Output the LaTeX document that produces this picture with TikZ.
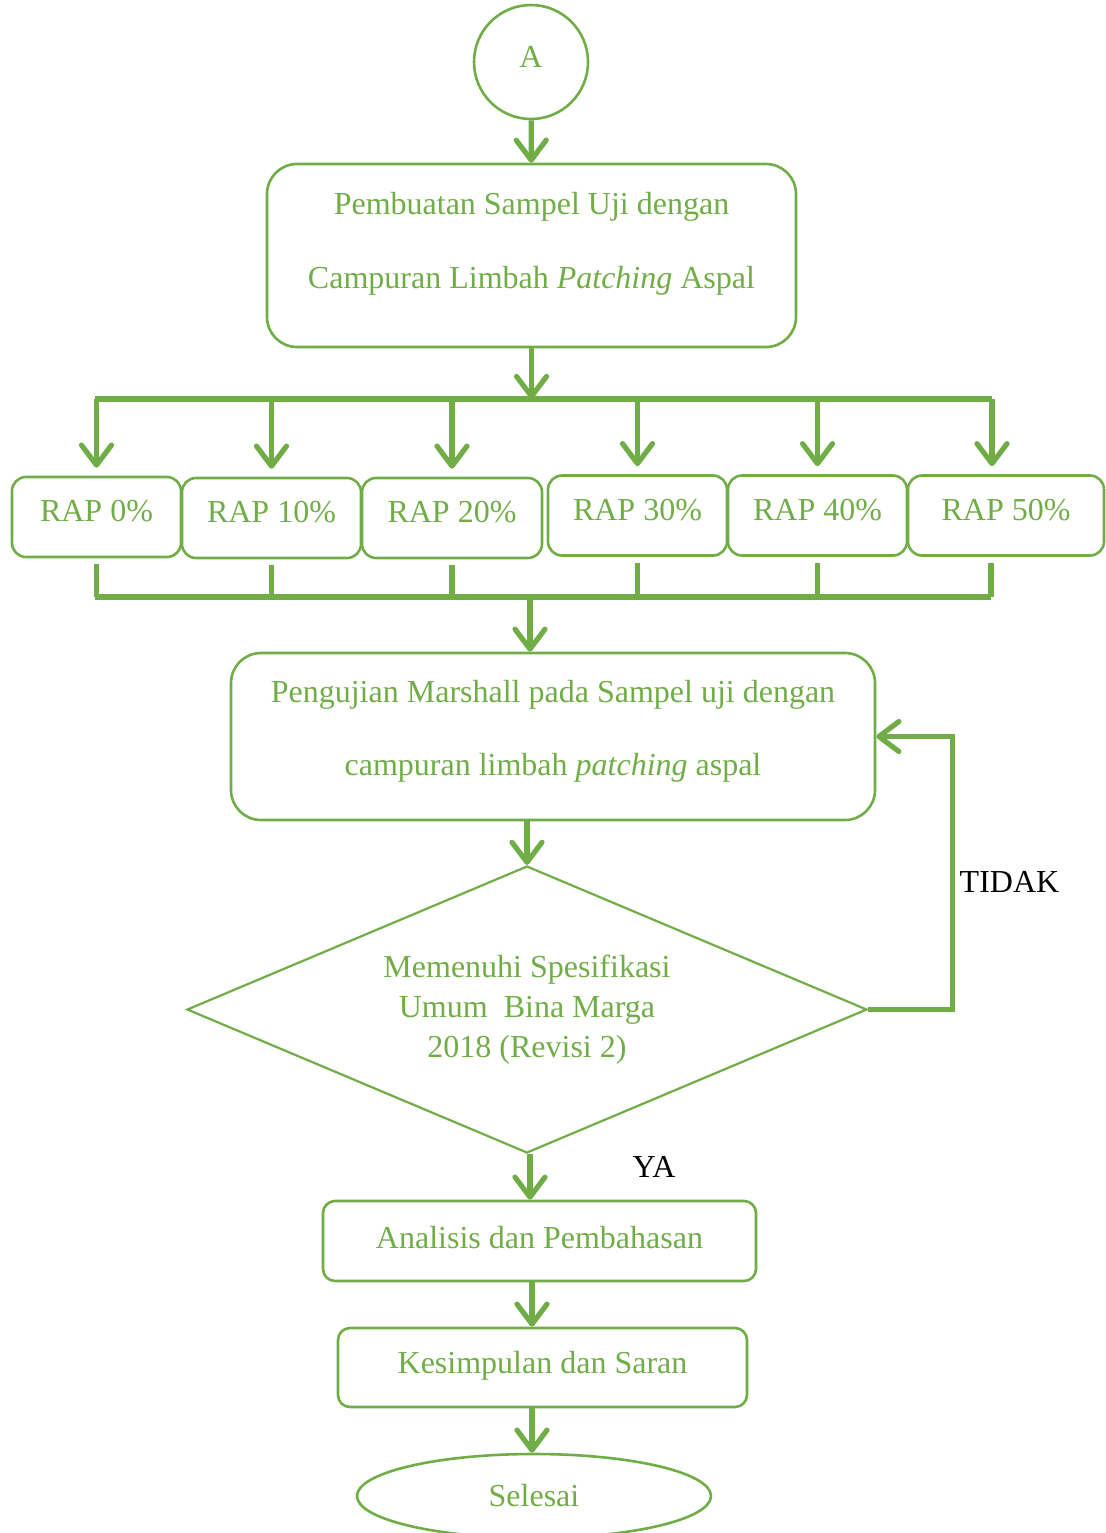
\documentclass[tikz,border=0pt]{standalone}
\usepackage{fontspec}
\setmainfont{Liberation Serif}
\usetikzlibrary{shapes.geometric,arrows.meta}
\definecolor{hijau}{RGB}{112,173,71}

\begin{document}
\begin{tikzpicture}[x=0.5pt,y=-0.5pt,
    font=\fontsize{16}{20}\selectfont,
    kotak/.style={draw=hijau,line width=1.3pt,rounded corners=7pt,text=hijau,align=center,inner sep=0pt},
    panah/.style={draw=hijau,line width=2.6pt,-{Straight Barb[length=10pt,width=15pt,round]}},
    garis/.style={draw=hijau,line width=2.6pt}]
\useasboundingbox (0,0) rectangle (1105,1533);

% awal
\node[kotak,circle,minimum size=57pt,text depth=5pt] (mulai) at (531,62) {A};
\node[kotak,rounded corners=15pt,minimum width=264.5pt,minimum height=91.5pt,text depth=15pt] (buat) at (531.5,255.5)
    {Pembuatan Sampel Uji dengan\\[17pt]Campuran Limbah \textit{Patching} Aspal};
\draw[panah] (mulai) -- (buat);

% variasi RAP
\foreach \n/\cx/\cy/\w/\t in {r0/96.5/517/84.5/0, r1/271.5/518/89.5/10, r2/452/518/90/20,
    r3/637.5/515.5/89.5/30, r4/817.5/515.5/89.5/40, r5/1006/515.5/98/50}
  \node[kotak,minimum width=\w pt,minimum height=40pt,text depth=6pt] (\n) at (\cx,\cy) {RAP \t\%};

\coordinate (atasK) at (95,399);
\coordinate (atasR) at (992,399);
\draw[garis] (atasK) -- (atasR);
\draw[panah] (buat) -- (buat.south |- atasK);
\foreach \n in {r0,r1,r2,r3,r4}
  \draw[panah,shorten >=4pt] (\n.north |- atasK) -- (\n.north);
\draw[panah,shorten >=4pt] (atasR) -- (atasR |- r5.north);

\coordinate (bawahK) at (95,597);
\coordinate (bawahR) at (991,597);
\coordinate (bawahM) at (530,597);
\draw[garis] (bawahK) -- (bawahR);
\foreach \n in {r0,r1,r2,r3,r4}
  \draw[garis,shorten <=3pt] (\n.south) -- (\n.south |- bawahK);
\draw[garis,shorten >=3pt] (bawahR) -- (bawahR |- r5.south);

% pengujian
\node[kotak,rounded corners=15pt,minimum width=322pt,minimum height=83.5pt,text depth=8.5pt] (uji) at (553,736.5)
    {Pengujian Marshall pada Sampel uji dengan\\[16.5pt]campuran limbah \textit{patching} aspal};
\draw[panah] (bawahM) -- (bawahM |- uji.north);

\node[kotak,diamond,sharp corners,aspect=2.37,line width=1.1pt,minimum width=340pt,minimum height=143.5pt] (cek) at (527,1009.5)
    {Memenuhi Spesifikasi\\Umum\ \ Bina Marga\\2018 (Revisi 2)};
\draw[panah] (cek.north |- uji.south) -- (cek.north);
\draw[panah] (cek.east) -- ++(84,0) |- (uji.east);
\node (tidak) at (1009.5,882) {TIDAK};

% akhir
\node[kotak,rounded corners=6pt,minimum width=216.5pt,minimum height=40pt,text depth=4pt] (analisis) at (539.5,1241)
    {Analisis dan Pembahasan};
\node[kotak,rounded corners=6pt,minimum width=204.5pt,minimum height=39.5pt,text depth=5pt] (simpul) at (542.5,1367.5)
    {Kesimpulan dan Saran};
\node[kotak,ellipse,minimum width=177pt,minimum height=42pt] (selesai) at (534,1496) {Selesai};
\draw[panah] ([xshift=1.5pt]cek.south) -- ([xshift=1.5pt]cek.south |- analisis.north);
\node (ya) at (654,1167) {YA};
\draw[panah] ([xshift=2.5pt]cek.south |- analisis.south) -- ([xshift=2.5pt]cek.south |- simpul.north);
\draw[panah] ([xshift=2.5pt]cek.south |- simpul.south) -- ([xshift=2.5pt]cek.south |- selesai.north);
\end{tikzpicture}
\end{document}
